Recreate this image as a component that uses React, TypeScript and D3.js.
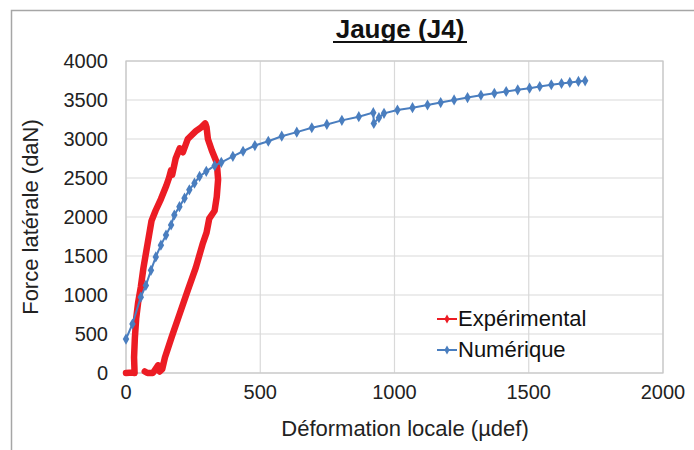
import React from "react";
import * as d3 from "d3";

const W = 694;
const H = 450;

const title = "Jauge (J4)";
const xLabel = "Déformation locale (µdef)";
const yLabel = "Force latérale (daN)";
const xTicks = [0, 500, 1000, 1500, 2000];
const yTicks = [0, 500, 1000, 1500, 2000, 2500, 3000, 3500, 4000];
const seriesNames = ["Expérimental", "Numérique"];

// Expérimental: [déformation, force]
const expX = [0, 25, 32, 30, 33, 38, 45, 55, 65, 75, 85, 95, 110, 130, 150, 160, 168, 172, 185, 200, 212, 230, 260, 280, 295, 300, 305, 320, 338, 343, 338, 330, 310, 300, 285, 260, 230, 200, 170, 145, 135, 125, 120, 110, 100, 80, 70];
const expY = [0, 5, 0, 200, 450, 700, 900, 1100, 1350, 1550, 1750, 1950, 2080, 2230, 2400, 2500, 2600, 2540, 2750, 2880, 2830, 3000, 3100, 3150, 3200, 3150, 3000, 2850, 2700, 2480, 2260, 2080, 1980, 1800, 1650, 1350, 1060, 760, 460, 200, 50, 20, 100, 50, 0, 0, 20];

// Numérique
const numX = [0, 24, 55, 74, 93, 111, 130, 149, 168, 180, 199, 218, 236, 255, 274, 299, 330, 355, 398, 436, 480, 530, 580, 636, 692, 748, 804, 867, 921, 923, 942, 961, 1011, 1067, 1123, 1172, 1222, 1272, 1322, 1372, 1416, 1459, 1503, 1541, 1584, 1622, 1653, 1685, 1710];
const numY = [435, 628, 972, 1123, 1316, 1488, 1639, 1768, 1897, 2026, 2133, 2241, 2348, 2434, 2520, 2585, 2658, 2701, 2778, 2843, 2916, 2971, 3036, 3088, 3144, 3187, 3239, 3286, 3338, 3200, 3273, 3329, 3372, 3402, 3436, 3467, 3501, 3531, 3561, 3587, 3609, 3630, 3652, 3673, 3695, 3712, 3725, 3738, 3746];

const RED = "#ec1c24";
const BLUE = "#4a7ebf";
const FONT = "'Liberation Sans', Arial, sans-serif";

export default function App() {
  const x = d3.scaleLinear().domain([0, 2000]).range([126, 663]);
  const y = d3.scaleLinear().domain([0, 4000]).range([373, 61]);

  const expData = expX.map((v, i) => [v, expY[i]] as [number, number]);
  const numData = numX.map((v, i) => [v, numY[i]] as [number, number]);

  const line = d3
    .line<[number, number]>()
    .x((d) => x(d[0]))
    .y((d) => y(d[1]));

  const diamond = d3.symbol().type(d3.symbolDiamond).size(36)() as string;
  const legendDiamond = d3.symbol().type(d3.symbolDiamond).size(24)() as string;

  return (
    <svg
      width={W}
      height={H}
      style={{ position: "absolute", left: 0, top: 0, background: "#fff" }}
      fontFamily={FONT}
    >
      <rect x={0} y={0} width={W} height={H} fill="#fff" />
      <rect x={11.5} y={10.5} width={W + 10} height={H + 10} fill="none" stroke="#a6a6a6" strokeWidth={1.5} />

      {/* grid */}
      {yTicks.map((t) => (
        <line key={"gy" + t} x1={x(0)} x2={x(2000)} y1={y(t)} y2={y(t)} stroke="#d9d9d9" strokeWidth={1.2} />
      ))}
      {xTicks.map((t) => (
        <line key={"gx" + t} x1={x(t)} x2={x(t)} y1={y(0)} y2={y(4000)} stroke="#d9d9d9" strokeWidth={1.2} />
      ))}
      <rect x={x(0)} y={y(4000)} width={x(2000) - x(0)} height={y(0) - y(4000)} fill="none" stroke="#c8c8c8" strokeWidth={1.2} />

      {/* tick labels */}
      {yTicks.map((t) => (
        <text key={"ty" + t} x={108} y={y(t) + 7} textAnchor="end" fontSize={20} fill="#222">
          {t}
        </text>
      ))}
      {xTicks.map((t) => (
        <text key={"tx" + t} x={x(t)} y={399} textAnchor="middle" fontSize={20} fill="#222">
          {t}
        </text>
      ))}

      {/* series */}
      <path d={line(expData) as string} fill="none" stroke={RED} strokeWidth={6.5} strokeLinejoin="round" strokeLinecap="round" />
      <path d={line(numData) as string} fill="none" stroke={BLUE} strokeWidth={2} />
      {numData.map((d, i) => (
        <path key={"m" + i} d={diamond} transform={`translate(${x(d[0])},${y(d[1])})`} fill={BLUE} />
      ))}

      {/* title */}
      <text x={400} y={38} textAnchor="middle" fontSize={26} fontWeight="bold" fill="#111">
        {title}
      </text>
      <line x1={333} x2={467} y1={42} y2={42} stroke="#111" strokeWidth={2} />

      {/* axis labels */}
      <text x={405} y={436} textAnchor="middle" fontSize={22} fill="#222">
        {xLabel}
      </text>
      <text transform="translate(38,217) rotate(-90)" textAnchor="middle" fontSize={22} fill="#222">
        {yLabel}
      </text>

      {/* legend */}
      <line x1={437} x2={457} y1={319} y2={319} stroke={RED} strokeWidth={2} />
      <path d={legendDiamond} transform="translate(447,319)" fill={RED} />
      <text x={458} y={326} fontSize={22} fill="#111">
        {seriesNames[0]}
      </text>
      <line x1={437} x2={457} y1={350} y2={350} stroke={BLUE} strokeWidth={2} />
      <path d={legendDiamond} transform="translate(447,350)" fill={BLUE} />
      <text x={458} y={357} fontSize={22} fill="#111">
        {seriesNames[1]}
      </text>
    </svg>
  );
}
